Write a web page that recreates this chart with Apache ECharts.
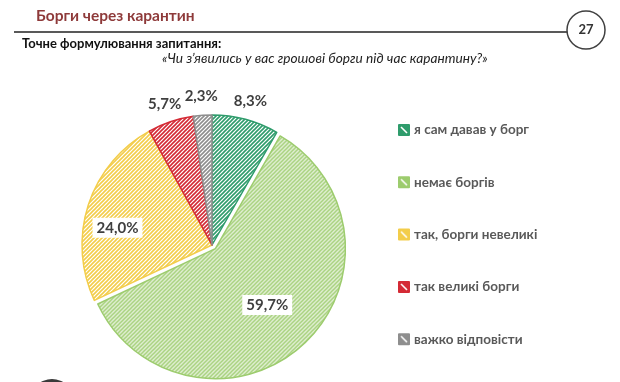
<!DOCTYPE html>
<html>
<head>
<meta charset="utf-8">
<script src="https://cdn.jsdelivr.net/npm/echarts@6/dist/echarts.min.js"></script>
<style>
html,body{margin:0;padding:0;background:#fff;}
#chart{width:620px;height:382px;}
</style>
</head>
<body>
<div id="chart"></div>
<script>
// ---- data ----
const categories = ['я сам давав у борг', 'немає боргів', 'так, борги невеликі', 'так великі борги', 'важко відповісти'];
const values = [8.3, 59.7, 24.0, 5.7, 2.3];
const colors = ['#2F9C6C', '#9DCC6E', '#F3CD4A', '#D42A35', '#8E8E8E'];
const insideLabelIdx = [1, 2];
const explodedIdx = [1];
// label nudges (Excel best-fit placement differs from midangle)
const labelNudge = { 2: { dx: -17, dy: 8 } };

function hatch(color) {
  const c = document.createElement('canvas');
  c.width = 4; c.height = 4;
  const g = c.getContext('2d');
  g.fillStyle = '#fff'; g.fillRect(0, 0, 4, 4);
  g.strokeStyle = color; g.lineWidth = 1.6;
  g.beginPath();
  g.moveTo(-1, 5); g.lineTo(5, -1);
  g.moveTo(-1, 1); g.lineTo(1, -1);
  g.moveTo(3, 5); g.lineTo(5, 3);
  g.stroke();
  return { image: c, repeat: 'repeat' };
}
function iconPat(color) {
  const c = document.createElement('canvas');
  c.width = 10; c.height = 10;
  const g = c.getContext('2d');
  g.fillStyle = color; g.fillRect(0, 0, 10, 10);
  g.strokeStyle = '#fff'; g.lineWidth = 1.6;
  g.beginPath(); g.moveTo(2, 2); g.lineTo(8, 8); g.stroke();
  return { image: c, repeat: 'repeat' };
}

const fmt = v => v.toFixed(1).replace('.', ',') + '%';
const lblStyle = { fontFamily: 'Lato', fontWeight: 'bold', fontSize: 15, color: '#3F3F3F' };
const CX = 212, CY = 245, R = 130;

const mainData = categories.map((n, i) => ({
  name: n, value: values[i], selected: explodedIdx.includes(i),
  itemStyle: { color: hatch(colors[i]), borderColor: colors[i], borderWidth: 1.5 }
}));
const innerLabelData = categories.map((n, i) => ({
  name: n, value: values[i],
  label: { show: insideLabelIdx.includes(i) }
}));
const outerLabelData = categories.map((n, i) => ({
  name: n, value: values[i],
  label: { show: !insideLabelIdx.includes(i) }
}));

const chart = echarts.init(document.getElementById('chart'), null, { renderer: 'canvas' });
chart.setOption({
  animation: false,
  legend: {
    orient: 'vertical', left: 393, top: 118, itemGap: 38.3,
    itemWidth: 10, itemHeight: 10, icon: 'rect',
    textStyle: { fontFamily: 'Lato', fontWeight: 'bold', fontSize: 13.5, color: '#595959' },
    data: categories.map((n, i) => ({ name: n, itemStyle: { color: iconPat(colors[i]) } })),
    selectedMode: false
  },
  graphic: [
    { type: 'text', left: 36, top: 8, style: { text: 'Борги через карантин', font: 'bold 15.5px Lato', fill: '#8E3A3A' } },
    { type: 'line', shape: { x1: 14, y1: 32, x2: 567, y2: 32 }, style: { stroke: '#595959', lineWidth: 2 } },
    { type: 'circle', shape: { cx: 586, cy: 30, r: 19 }, style: { fill: '#fff', stroke: '#404040', lineWidth: 1.5 } },
    { type: 'text', x: 586, y: 30, style: { text: '27', font: 'bold 13px Lato', fill: '#333', align: 'center', verticalAlign: 'middle' } },
    { type: 'text', left: 22, top: 37, style: { text: 'Точне формулювання запитання:', font: 'bold 13px Lato', fill: '#111' } },
    { type: 'text', left: 162, top: 52, style: { text: '«Чи з’явились у вас грошові борги під час карантину?»', font: 'italic 13.7px Lato', fill: '#222' } },
    { type: 'circle', shape: { cx: 52, cy: 401, r: 22 }, style: { fill: '#3a3a3a' } }
  ],
  series: [
    {
      type: 'pie', center: [CX, CY], radius: R, startAngle: 90, clockwise: true,
      selectedMode: 'single', selectedOffset: 5, silent: true,
      label: { show: false }, labelLine: { show: false },
      emphasis: { disabled: true },
      data: mainData
    },
    {
      type: 'pie', center: [CX, CY], radius: 157, startAngle: 90, clockwise: true, silent: true,
      itemStyle: { color: 'transparent' }, labelLine: { show: false },
      label: Object.assign({ position: 'inside', formatter: p => fmt(p.value), backgroundColor: '#fff', padding: [3, 4, 2, 4] }, lblStyle),
      labelLayout: p => labelNudge[p.dataIndex] || {},
      emphasis: { disabled: true },
      data: innerLabelData
    },
    {
      type: 'pie', center: [CX, CY], radius: 292, startAngle: 90, clockwise: true, silent: true,
      itemStyle: { color: 'transparent' }, labelLine: { show: false },
      label: Object.assign({ position: 'inside', formatter: p => fmt(p.value) }, lblStyle),
      emphasis: { disabled: true },
      data: outerLabelData
    }
  ]
});
</script>
</body>
</html>
